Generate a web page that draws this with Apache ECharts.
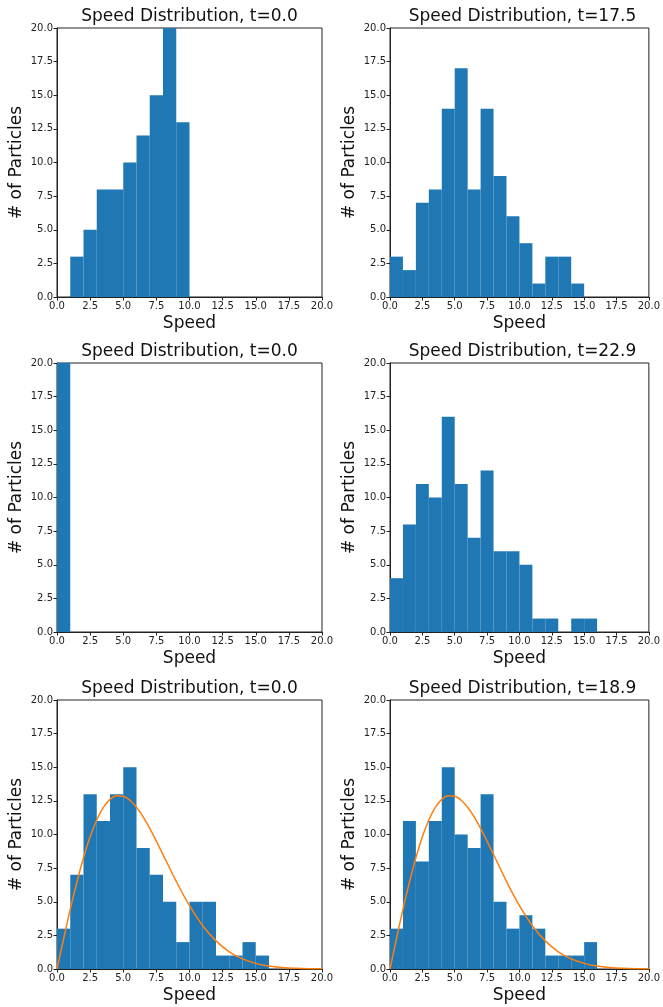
<!DOCTYPE html>
<html>
<head>
<meta charset="utf-8">
<script src="https://cdn.jsdelivr.net/npm/echarts@6/dist/echarts.min.js"></script>
<style>
  html, body { margin: 0; padding: 0; background: #fff; }
  #chart { width: 663px; height: 1007px; }
</style>
</head>
<body>
<div id="chart"></div>
<script>
// speed bins of width 1 from 0 to 20
const bins = ['0-1','1-2','2-3','3-4','4-5','5-6','6-7','7-8','8-9','9-10',
              '10-11','11-12','12-13','13-14','14-15','15-16','16-17','17-18','18-19','19-20']

const titles = [
  'Speed Distribution, t=0.0',
  'Speed Distribution, t=17.5',
  'Speed Distribution, t=0.0',
  'Speed Distribution, t=22.9',
  'Speed Distribution, t=0.0',
  'Speed Distribution, t=18.9'
]

// particle counts per bin (100 particles per panel)
const counts1 = [0, 3, 5, 8, 8, 10, 12, 15, 26, 13, 0, 0, 0, 0, 0, 0, 0, 0, 0, 0]
const counts2 = [3, 2, 7, 8, 14, 17, 8, 14, 9, 6, 4, 1, 3, 3, 1, 0, 0, 0, 0, 0]
const counts3 = [100, 0, 0, 0, 0, 0, 0, 0, 0, 0, 0, 0, 0, 0, 0, 0, 0, 0, 0, 0]
const counts4 = [4, 8, 11, 10, 16, 11, 7, 12, 6, 6, 5, 1, 1, 0, 1, 1, 0, 0, 0, 0]
const counts5 = [3, 7, 13, 11, 13, 15, 9, 7, 5, 2, 5, 5, 1, 1, 2, 1, 0, 0, 0, 0]
const counts6 = [3, 11, 8, 11, 15, 10, 9, 13, 5, 3, 4, 3, 1, 1, 1, 2, 0, 0, 0, 0]
const allCounts = [counts1, counts2, counts3, counts4, counts5, counts6]

// theoretical curve
const curveX = [0, 0.5, 1, 1.5, 2, 2.5, 3, 3.5, 4, 4.5, 5, 5.5, 6, 6.5, 7, 8, 9, 10,
                11, 12, 13, 14, 15, 16, 17, 18, 19, 20]
const curveY = [0, 2.25, 4.43, 6.45, 8.27, 9.83, 11.08, 12.01, 12.61, 12.88, 12.85, 12.55, 12.02, 11.31,
                10.45, 8.51, 6.51, 4.71, 3.22, 2.09, 1.28, 0.75, 0.42, 0.22, 0.11, 0.05, 0.02, 0.01]
const curvePanels = [4, 5]

const colLeft = [57, 390]
const rowTop = [28, 363, 700]
const plotW = 265
const plotH = 269

const axisColor = '#222'
const fmt = v => v.toFixed(1)

let grid = [], xAxis = [], yAxis = [], title = [], series = []

for (let i = 0; i < 6; i++) {
    let left = colLeft[i % 2]
    let top = rowTop[Math.floor(i / 2)]

    grid.push({
        left: left, top: top, width: plotW, height: plotH,
        show: true, borderColor: axisColor, borderWidth: 1, backgroundColor: '#fff'
    })

    title.push({
        text: titles[i],
        left: left + plotW / 2 - 5,
        top: top - 25,
        textAlign: 'center',
        textStyle: { fontFamily: 'DejaVu Sans', fontSize: 17, fontWeight: 'normal', color: '#111' }
    })

    // hidden category axis carries the bars
    xAxis.push({
        type: 'category', gridIndex: i, data: bins, show: false, position: 'bottom'
    })
    // visible value axis for ticks and the curve
    xAxis.push({
        type: 'value', gridIndex: i, min: 0, max: 20, interval: 2.5, position: 'bottom',
        name: 'Speed', nameLocation: 'middle', nameGap: 18,
        nameTextStyle: { fontFamily: 'DejaVu Sans', fontSize: 17, color: '#111' },
        axisLine: { show: true, onZero: false, lineStyle: { color: axisColor, width: 1 } },
        axisTick: { show: true, length: 3.5, lineStyle: { color: axisColor } },
        axisLabel: { formatter: fmt, fontFamily: 'DejaVu Sans', fontSize: 10, color: '#222', margin: 4 },
        splitLine: { show: false }
    })
    yAxis.push({
        type: 'value', gridIndex: i, min: 0, max: 20, interval: 2.5,
        name: '# of Particles', nameLocation: 'middle', nameGap: 32, nameRotate: 90,
        nameTextStyle: { fontFamily: 'DejaVu Sans', fontSize: 17, color: '#111' },
        axisLine: { show: true, lineStyle: { color: axisColor, width: 1 } },
        axisTick: { show: true, length: 3.5, lineStyle: { color: axisColor } },
        axisLabel: { formatter: fmt, fontFamily: 'DejaVu Sans', fontSize: 10, color: '#222', margin: 4 },
        splitLine: { show: false }
    })

    series.push({
        type: 'bar',
        xAxisIndex: i * 2,
        yAxisIndex: i,
        data: allCounts[i],
        barCategoryGap: '0%',
        clip: true,
        itemStyle: { color: '#1f77b4' },
        silent: true
    })

    if (curvePanels.indexOf(i) >= 0) {
        series.push({
            type: 'line',
            xAxisIndex: i * 2 + 1,
            yAxisIndex: i,
            data: curveX.map((x, k) => [x, curveY[k]]),
            smooth: 0.4,
            symbol: 'none',
            lineStyle: { color: '#ff7f0e', width: 1.5 },
            silent: true
        })
    }
}

let option = {
    backgroundColor: '#fff',
    animation: false,
    title: title,
    grid: grid,
    xAxis: xAxis,
    yAxis: yAxis,
    series: series
}

var chart = echarts.init(document.getElementById('chart'))
chart.setOption(option)
</script>
</body>
</html>
